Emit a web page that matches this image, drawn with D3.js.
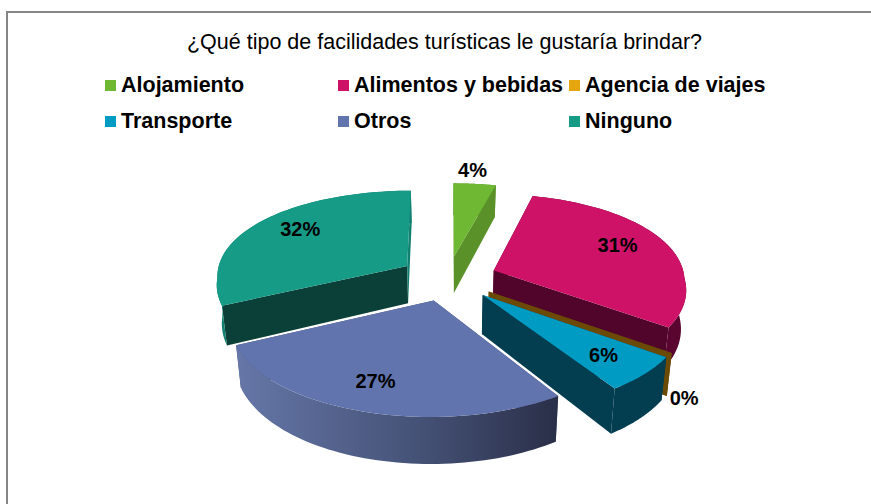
<!DOCTYPE html>
<html>
<head>
<meta charset="utf-8">
<script src="https://cdn.jsdelivr.net/npm/d3@7/dist/d3.min.js"></script>
<style>
    body { margin: 0; background: #fff; }
    svg { display: block; }
    text { font-family: "Liberation Sans", Arial, sans-serif; fill: #000; }
</style>
</head>
<body>
<svg id="chart" width="871" height="504"></svg>
<script>
var categories = ['Alojamiento', 'Alimentos y bebidas', 'Agencia de viajes', 'Transporte', 'Otros', 'Ninguno'];
var values = [4, 31, 0, 6, 27, 32];
var labels = ['4%', '31%', '0%', '6%', '27%', '32%'];

var topColors = ['#6fb833', '#ce1268', '#e5a50f', '#009bc3', '#6274ad', '#169b87'];
var rimColors = ['#5a9229', '#5a0530', '#6b4a05', '#033d50', 'url(#otrosRim)', '#128070'];
var startWalls = ['#5a9229', '#52052a', '#6b4a05', '#033d50', '#4b5a82', '#0a4038'];
var endWalls = ['#5a9229', '#52052a', '#6b4a05', '#033d50', '#4b5a82', '#128070'];

// where each label sits: radius on the pie, then a nudge in pixels
var labelRadius = [1.2, 0.7, 1.15, 0.75, 0.6, 0.7];
var labelNudge = [[-6, -2], [3, -5], [-19, 35], [4, 3], [-19, 18], [-1, -6]];
var drawOrder = [0, 1, 2, 3, 5, 4];

var svg = d3.select('#chart');
var width = +svg.attr('width'),
    height = +svg.attr('height');

var cx = 448, cy = 278;
var radiusX = 191, radiusY = 90.5;
var perspFront = 0.18, perspBack = 0.1, perspY = 0.155;
var explodeU = 0.2565, explodeV = 0.25;
var depth = 38, converge = 0.022;

// pie plane -> screen, things nearer to the viewer get bigger
function project(u, v, z) {
    var sx = 1 / (1 - (v > 0 ? perspFront : perspBack) * v),
        sy = 1 / (1 - perspY * v);
    return [cx + radiusX * u * sx * (1 - converge * z), cy + radiusY * v * sy + depth * z * sy];
}

var defs = svg.append('defs');
var grad = defs.append('linearGradient').attr('id', 'otrosRim');
grad.append('stop').attr('offset', '0%').attr('stop-color', '#6677a8');
grad.append('stop').attr('offset', '55%').attr('stop-color', '#465378');
grad.append('stop').attr('offset', '100%').attr('stop-color', '#2a2f48');

svg.append('rect')
    .attr('x', 7).attr('y', 12)
    .attr('width', width + 40).attr('height', height + 40)
    .attr('fill', '#fff')
    .attr('stroke', '#868686')
    .attr('stroke-width', 2);

svg.append('text')
    .attr('x', 444.5).attr('y', 49)
    .attr('text-anchor', 'middle')
    .attr('font-size', 21.5)
    .text('¿Qué tipo de facilidades turísticas le gustaría brindar?');

var legendX = [105, 338, 569];
var legendY = [85, 121];
var legend = svg.selectAll('g.legend')
    .data(categories)
  .enter().append('g')
    .attr('class', 'legend')
    .attr('transform', function(d, i) {
        return 'translate(' + legendX[i % 3] + ',' + legendY[Math.floor(i / 3)] + ')';
    });

legend.append('rect')
    .attr('y', -5).attr('width', 11).attr('height', 11)
    .attr('fill', function(d, i) { return topColors[i]; });

legend.append('text')
    .attr('x', 16).attr('y', 7)
    .attr('font-size', 21.5)
    .attr('font-weight', 'bold')
    .text(function(d) { return d; });

var pie = d3.pie().sort(null).value(function(d) { return d; });
var arcs = pie(values);
var line = d3.line().curve(d3.curveLinear);

function slicePoints(d) {
    var mid = (d.startAngle + d.endAngle) / 2;
    var ou = Math.sin(mid) * explodeU,
        ov = -Math.cos(mid) * explodeV;
    function at(angle, r, z) {
        return project(ou + Math.sin(angle) * r, ov - Math.cos(angle) * r, z);
    }
    var steps = d3.range(0, 61).map(function(k) {
        return d.startAngle + (d.endAngle - d.startAngle) * k / 60;
    });
    return {at: at, steps: steps, mid: mid};
}

var g = svg.append('g');

drawOrder.forEach(function(i) {
    var d = arcs[i];
    var p = slicePoints(d);
    var slice = g.append('g').attr('class', 'slice');

    // the two flat walls of the cut
    [[d.startAngle, startWalls[i]], [d.endAngle, endWalls[i]]].forEach(function(w) {
        slice.append('path')
            .attr('d', line([p.at(w[0], 0, 0), p.at(w[0], 1, 0), p.at(w[0], 1, 1), p.at(w[0], 0, 1)]) + 'Z')
            .attr('fill', w[1]);
    });

    // rim, the back part ends up under the top face
    var rimTop = p.steps.map(function(a) { return p.at(a, 1, 0); });
    var rimBottom = p.steps.map(function(a) { return p.at(a, 1, 1); }).reverse();
    slice.append('path')
        .attr('d', line(rimTop.concat(rimBottom)) + 'Z')
        .attr('fill', rimColors[i]);

    var face = [p.at(0, 0, 0)].concat(rimTop);
    slice.append('path')
        .attr('d', line(face) + 'Z')
        .attr('fill', topColors[i]);
});

svg.selectAll('text.pct')
    .data(arcs)
  .enter().append('text')
    .attr('class', 'pct')
    .attr('text-anchor', 'middle')
    .attr('font-size', 20)
    .attr('font-weight', 'bold')
    .attr('x', function(d, i) {
        var p = slicePoints(d);
        return p.at(p.mid, labelRadius[i], 0)[0] + labelNudge[i][0];
    })
    .attr('y', function(d, i) {
        var p = slicePoints(d);
        return p.at(p.mid, labelRadius[i], 0)[1] + labelNudge[i][1] + 7;
    })
    .text(function(d, i) { return labels[i]; });
</script>
</body>
</html>
